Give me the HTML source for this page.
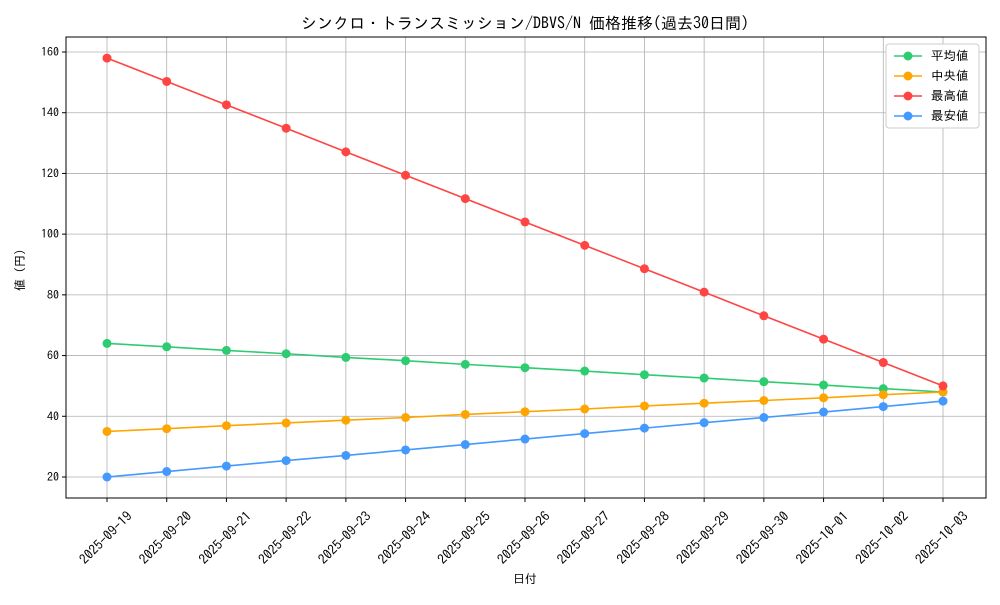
<!DOCTYPE html>
<html><head><meta charset="utf-8"><style>
body{margin:0;background:#fff}
svg text{font-family:"IPAGothic","Noto Sans CJK JP",monospace;fill:#000}
</style></head><body>
<svg id="chart" width="1000" height="600">
<rect width="1000" height="600" fill="#fff"/>
<text x="525" y="29" font-size="16" text-anchor="middle">シンクロ・トランスミッション/DBVS/N 価格推移(過去30日間)</text>
<g id="grid"></g><g id="axes"></g><g id="series"></g>
<text x="525" y="583" font-size="12" text-anchor="middle">日付</text>
<text transform="translate(24,270) rotate(-90)" font-size="12" text-anchor="middle">値 (円)</text>
<g id="legend"></g>
</svg>
<script>
const categories=["2025-09-19","2025-09-20","2025-09-21","2025-09-22","2025-09-23","2025-09-24","2025-09-25","2025-09-26","2025-09-27","2025-09-28","2025-09-29","2025-09-30","2025-10-01","2025-10-02","2025-10-03"];
const avgValues=[64,62.9,61.7,60.6,59.4,58.3,57.1,56,54.9,53.7,52.6,51.4,50.3,49.1,48];
const medValues=[35,35.9,36.9,37.8,38.7,39.6,40.6,41.5,42.4,43.4,44.3,45.2,46.1,47.1,48];
const maxValues=[158,150.3,142.6,134.9,127.1,119.4,111.7,104,96.3,88.6,80.9,73.1,65.4,57.7,50];
const minValues=[20,21.8,23.6,25.4,27.1,28.9,30.7,32.5,34.3,36.1,37.9,39.6,41.4,43.2,45];
const yTicks=[20,40,60,80,100,120,140,160];
const seriesNames=["平均値","中央値","最高値","最安値"];
const NS="http://www.w3.org/2000/svg";
const L=66,R=986,T=37,B=498;
const x=i=>107+i*(943-107)/(categories.length-1);
const y=v=>477-(v-20)*(477-52)/140;
function mk(t,a,p){const e=document.createElementNS(NS,t);for(const k in a)e.setAttribute(k,a[k]);p.appendChild(e);return e;}
const grid=document.getElementById('grid'),axes=document.getElementById('axes'),ser=document.getElementById('series'),leg=document.getElementById('legend');
categories.forEach((c,i)=>{
 const g=mk('line',{x1:x(i),x2:x(i),y1:T,y2:B,stroke:'#b0b0b0','stroke-width':0.8},grid);
 
 
 mk('line',{x1:x(i),x2:x(i),y1:B,y2:B+4,stroke:'#000'},axes);
 const t=mk('text',{transform:`translate(${x(i)+2},${B+43}) rotate(-45)`,'font-size':13.5,'text-anchor':'middle'},axes);
 t.textContent=c;
 
 
});
yTicks.forEach(v=>{
 const g=mk('line',{x1:L,x2:R,y1:y(v),y2:y(v),stroke:'#b0b0b0','stroke-width':0.8},grid);
 
 
 mk('line',{x1:L-4,x2:L,y1:y(v),y2:y(v),stroke:'#000'},axes);
 const t=mk('text',{x:L-7,y:y(v)+4,'font-size':12,'text-anchor':'end'},axes);
 t.textContent=v;
 
 
});
const fr=mk('rect',{x:L,y:T,width:R-L,height:B-T,fill:'none',stroke:'#000','stroke-width':1},axes);


const all=[avgValues,medValues,maxValues,minValues];
const colors=['#2ecc71','#ffa500','#ff4444','#4499ff'];
const keys=['avg','median','max','min'];
all.forEach((vals,s)=>{
 const p=mk('polyline',{points:vals.map((v,i)=>x(i)+','+y(v)).join(' '),fill:'none',stroke:colors[s],'stroke-width':1.6},ser);
 
 
 vals.forEach((v,i)=>{
  const c=mk('circle',{cx:x(i),cy:y(v),r:4.5,fill:colors[s]},ser);
  
  
 });
});
const lb=mk('rect',{x:886,y:44,width:93,height:84,fill:'#fff',stroke:'#ccc',rx:3},leg);


seriesNames.forEach((n,s)=>{
 const yy=56+s*20;
 const g=mk('g',{},leg);
 
 
 mk('line',{x1:894,x2:922,y1:yy,y2:yy,stroke:colors[s],'stroke-width':1.6},g);
 mk('circle',{cx:908,cy:yy,r:4.5,fill:colors[s]},g);
 const t=mk('text',{x:931,y:yy+4,'font-size':12.5},g);
 t.textContent=n;
});
</script>
</body></html>
